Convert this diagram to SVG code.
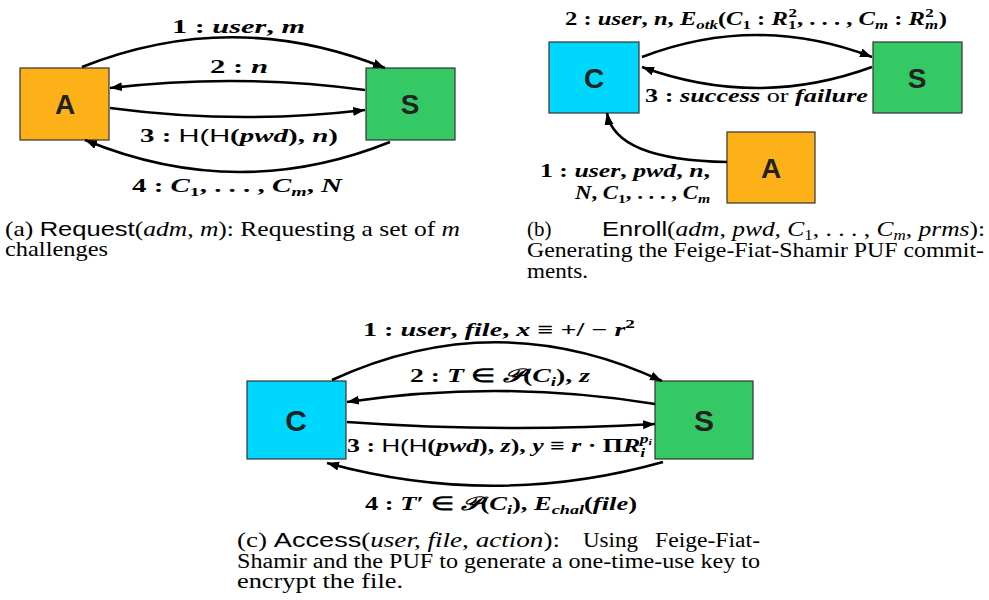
<svg xmlns="http://www.w3.org/2000/svg" width="989" height="600" viewBox="0 0 989 600">
<defs>
<marker id="ah" markerUnits="userSpaceOnUse" markerWidth="14" markerHeight="10" refX="12" refY="4.5" orient="auto">
<path d="M0,0 L12,4.5 L0,9 z" fill="#000"/>
</marker>
<style>
.box{stroke:#333;stroke-width:1.2}
.org{fill:#FBB117}
.grn{fill:#35C966}
.cyn{fill:#00D7FF}
.ltr{font-family:"Liberation Sans",Arial,sans-serif;font-weight:bold;font-size:28px;fill:#222;text-anchor:middle}
.edge{fill:none;stroke:#000;stroke-width:2.6;marker-end:url(#ah)}
.lbl{font-family:"Liberation Serif","Times New Roman",serif;font-size:19px;font-weight:bold;fill:#000}
.mi{font-style:italic}
.sf{font-family:"Liberation Sans",Arial,sans-serif;font-weight:normal}
.rm{font-weight:normal}
.cap{font-family:"Liberation Serif","Times New Roman",serif;font-size:21px;fill:#000}
.capc{font-family:"Liberation Serif","Times New Roman",serif;font-size:20.5px;fill:#000}
.ss{font-family:"Liberation Sans",Arial,sans-serif}
</style>
</defs>
<rect width="989" height="600" fill="#fff"/>

<g id="a-A"><rect class="box org" x="20" y="68" width="89" height="72"/><text class="ltr" x="65" y="114">A</text></g>
<g id="a-S"><rect class="box grn" x="366" y="68" width="89" height="72"/><text class="ltr" x="410" y="114">S</text></g>

<g id="b-C"><rect class="box cyn" x="549" y="42" width="90" height="71"/><text class="ltr" x="594" y="88">C</text></g>
<g id="b-S"><rect class="box grn" x="873" y="42" width="89" height="71"/><text class="ltr" x="917" y="88">S</text></g>
<g id="b-A"><rect class="box org" x="727" y="132" width="88" height="71"/><text class="ltr" x="771" y="178">A</text></g>

<g id="c-C"><rect class="box cyn" x="247" y="381" width="99" height="78"/><text class="ltr" x="296" y="431" style="font-size:30px">C</text></g>
<g id="c-S"><rect class="box grn" x="655" y="381" width="98" height="78"/><text class="ltr" x="704" y="431" style="font-size:30px">S</text></g>

<g id="connectors">
<path class="edge" d="M82,67 Q233,7 385,68"/>
<path class="edge" d="M365,90 Q238,73 110,88"/>
<path class="edge" d="M110,108 Q238,125 365,110"/>
<path class="edge" d="M390,142 Q238,203 85,140"/>

<path class="edge" d="M642,57 Q757,13 872,57"/>
<path class="edge" d="M872,67 Q757,109 642,67"/>
<path class="edge" d="M727,162 Q615,160 607,113"/>

<path class="edge" d="M332,380 Q497,304 662,381"/>
<path class="edge" d="M655,404 Q501,379 347,402"/>
<path class="edge" d="M347,422 Q501,433 655,424"/>
<path class="edge" d="M663,462 Q495,509 327,463"/>
</g>

<g id="labels">
<text class="lbl" x="172" y="33" textLength="133" lengthAdjust="spacingAndGlyphs">1 : <tspan class="mi">user</tspan>, <tspan class="mi">m</tspan></text>
<text class="lbl" x="210" y="73" textLength="58" lengthAdjust="spacingAndGlyphs">2 : <tspan class="mi">n</tspan></text>
<text class="lbl" x="140" y="142" textLength="198" lengthAdjust="spacingAndGlyphs">3 : <tspan class="sf">H(H</tspan>(<tspan class="mi">pwd</tspan>), <tspan class="mi">n</tspan>)</text>
<text class="lbl" x="132" y="192" textLength="210" lengthAdjust="spacingAndGlyphs">4 : <tspan class="mi">C</tspan><tspan font-size="13" dy="4">1</tspan><tspan dy="-4">, . . . , </tspan><tspan class="mi">C</tspan><tspan class="mi" font-size="13" dy="4">m</tspan><tspan dy="-4">, </tspan><tspan class="mi">N</tspan></text>

<text class="lbl" x="565" y="25" textLength="382" lengthAdjust="spacingAndGlyphs">2 : <tspan class="mi">user</tspan>, <tspan class="mi">n</tspan>, <tspan class="mi">E</tspan><tspan class="mi" font-size="13" dy="4">otk</tspan><tspan dy="-4">(</tspan><tspan class="mi">C</tspan><tspan font-size="13" dy="4">1</tspan><tspan dy="-4"> : </tspan><tspan class="mi">R</tspan><tspan font-size="13" dy="4">1</tspan><tspan font-size="13" dx="-6" dy="-12">2</tspan><tspan dy="8">, . . . , </tspan><tspan class="mi">C</tspan><tspan class="mi" font-size="13" dy="4">m</tspan><tspan dy="-4"> : </tspan><tspan class="mi">R</tspan><tspan class="mi" font-size="13" dy="4">m</tspan><tspan font-size="13" dx="-10" dy="-12">2</tspan><tspan dx="4" dy="8">)</tspan></text>
<text class="lbl" x="645" y="102" textLength="223" lengthAdjust="spacingAndGlyphs">3 : <tspan class="mi">success</tspan> <tspan class="rm">or</tspan> <tspan class="mi">failure</tspan></text>
<text class="lbl" x="540" y="177" textLength="170" lengthAdjust="spacingAndGlyphs">1 : <tspan class="mi">user</tspan>, <tspan class="mi">pwd</tspan>, <tspan class="mi">n</tspan>,</text>
<text class="lbl" x="575" y="199" textLength="135" lengthAdjust="spacingAndGlyphs"><tspan class="mi">N</tspan>, <tspan class="mi">C</tspan><tspan font-size="13" dy="4">1</tspan><tspan dy="-4">, . . . , </tspan><tspan class="mi">C</tspan><tspan class="mi" font-size="13" dy="4">m</tspan></text>

<text class="lbl" x="363" y="336" textLength="272" lengthAdjust="spacingAndGlyphs">1 : <tspan class="mi">user</tspan>, <tspan class="mi">file</tspan>, <tspan class="mi">x</tspan> ≡ +/ − <tspan class="mi">r</tspan><tspan font-size="13" dy="-8">2</tspan></text>
<text class="lbl" x="410" y="382" textLength="180" lengthAdjust="spacingAndGlyphs">2 : <tspan class="mi">T</tspan> ∈ <tspan class="mi">𝒫</tspan>(<tspan class="mi">C</tspan><tspan class="mi" font-size="13" dy="4">i</tspan><tspan dy="-4">), </tspan><tspan class="mi">z</tspan></text>
<text class="lbl" x="347" y="452" textLength="305" lengthAdjust="spacingAndGlyphs">3 : <tspan class="sf">H(H</tspan>(<tspan class="mi">pwd</tspan>), <tspan class="mi">z</tspan>), <tspan class="mi">y</tspan> ≡ <tspan class="mi">r</tspan> · Π<tspan class="mi">R</tspan><tspan class="mi" font-size="13" dy="5">i</tspan><tspan class="mi" font-size="13" dx="-4" dy="-14">p</tspan><tspan class="mi" font-size="9" dy="2">i</tspan></text>
<text class="lbl" x="365" y="510" textLength="272" lengthAdjust="spacingAndGlyphs">4 : <tspan class="mi">T</tspan>′ ∈ <tspan class="mi">𝒫</tspan>(<tspan class="mi">C</tspan><tspan class="mi" font-size="13" dy="4">i</tspan><tspan dy="-4">), </tspan><tspan class="mi">E</tspan><tspan class="mi" font-size="13" dy="4">chal</tspan><tspan dy="-4">(</tspan><tspan class="mi">file</tspan>)</text>
</g>

<g id="captions">
<text class="cap" x="5" y="236" textLength="455" lengthAdjust="spacingAndGlyphs">(a) <tspan class="ss">Request</tspan>(<tspan class="mi">adm, m</tspan>): Requesting a set of <tspan class="mi">m</tspan></text>
<text class="cap" x="5" y="256" textLength="103" lengthAdjust="spacingAndGlyphs">challenges</text>

<text class="cap" x="527" y="236">(b)</text>
<text class="cap" x="602" y="236" textLength="383" lengthAdjust="spacingAndGlyphs"><tspan class="ss">Enroll</tspan>(<tspan class="mi">adm, pwd, C</tspan><tspan font-size="14" dy="4">1</tspan><tspan dy="-4">, . . . , </tspan><tspan class="mi">C</tspan><tspan class="mi" font-size="14" dy="4">m</tspan><tspan dy="-4">, </tspan><tspan class="mi">prms</tspan>):</text>
<text class="cap" x="527" y="257" textLength="457" lengthAdjust="spacingAndGlyphs">Generating the Feige-Fiat-Shamir PUF commit-</text>
<text class="cap" x="527" y="278" textLength="61" lengthAdjust="spacingAndGlyphs">ments.</text>

<text class="capc" x="237" y="547" textLength="323" lengthAdjust="spacingAndGlyphs">(c) <tspan class="ss">Access</tspan>(<tspan class="mi">user, file, action</tspan>):</text>
<text class="capc" x="583" y="547" textLength="55" lengthAdjust="spacingAndGlyphs">Using</text>
<text class="capc" x="655" y="547" textLength="105" lengthAdjust="spacingAndGlyphs">Feige-Fiat-</text>
<text class="capc" x="237" y="568" textLength="523" lengthAdjust="spacingAndGlyphs">Shamir and the PUF to generate a one-time-use key to</text>
<text class="capc" x="237" y="588" textLength="166" lengthAdjust="spacingAndGlyphs">encrypt the file.</text>
</g>
</svg>
